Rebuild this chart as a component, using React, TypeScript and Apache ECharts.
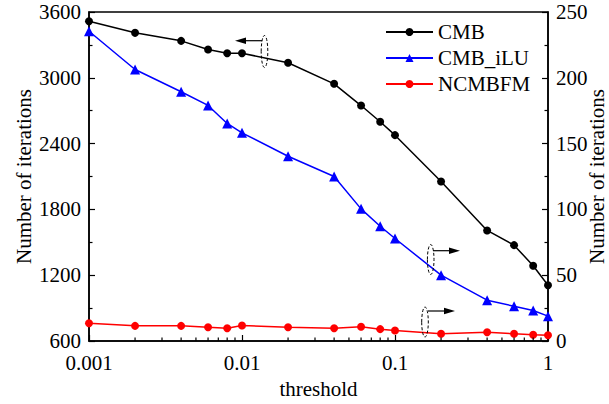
import React, { useEffect, useRef } from "react";
import * as echarts from "echarts";

const thresholds = [0.001, 0.002, 0.004, 0.006, 0.008, 0.01, 0.02, 0.04, 0.06, 0.08, 0.1, 0.2, 0.4, 0.6, 0.8, 1];
const cmb = [3516, 3410, 3337, 3258, 3224, 3224, 3137, 2945, 2747, 2599, 2477, 2054, 1608, 1474, 1286, 1109];
const cmbILU = [235.4, 206.3, 189.4, 179, 165.3, 158.2, 140.4, 125, 100.4, 87.2, 77.9, 50, 31, 26.4, 23.2, 18.9];
const ncmbfm = [13.5, 11.5, 11.5, 10.5, 9.7, 11.8, 10.5, 9.7, 10.8, 9, 8, 5.5, 6.7, 5.5, 4.7, 4.4];
const seriesNames = ["CMB", "CMB_iLU", "NCMBFM"];
const decades = [0.001, 0.01, 0.1];
const minorMultipliers = [2, 3, 4, 5, 6, 7, 8, 9];
const logMinorTicks = decades.flatMap((d) => minorMultipliers.map((m) => +(d * m).toPrecision(3)));

const FONT = "'Liberation Serif', 'Times New Roman', serif";
const FS = 21;

function arrow(x1: number, y: number, x2: number, ellipse: { cx: number; cy: number; rx: number; ry: number }) {
  const dir = x2 > x1 ? 1 : -1;
  const headLen = 11;
  const headHalf = 3.2;
  return [
    {
      type: "ellipse",
      shape: ellipse,
      style: { fill: "none", stroke: "#000", lineWidth: 1, lineDash: [3, 2] },
      z: 20,
    },
    {
      type: "line",
      shape: { x1, y1: y, x2: x2 - dir * headLen, y2: y },
      style: { stroke: "#000", lineWidth: 1.2 },
      z: 20,
    },
    {
      type: "polygon",
      shape: {
        points: [
          [x2, y],
          [x2 - dir * headLen, y - headHalf],
          [x2 - dir * headLen, y + headHalf],
        ],
      },
      style: { fill: "#000" },
      z: 20,
    },
  ];
}

export default function App() {
  const ref = useRef<HTMLDivElement>(null);
  useEffect(() => {
    if (!ref.current) return;
    const chart = echarts.init(ref.current, null, { renderer: "svg" });
    const axisLabel = { color: "#000", fontSize: FS, fontFamily: FONT };
    const nameStyle = { color: "#000", fontSize: FS, fontFamily: FONT };
    const axisLine = { show: true, lineStyle: { color: "#000", width: 1.5 } };
    chart.setOption({
      animation: false,
      textStyle: { fontFamily: FONT },
      grid: {
        left: 89,
        right: 61,
        top: 12,
        bottom: 63,
        containLabel: false,
        outerBoundsMode: "none",
        show: true,
        borderColor: "#000",
        borderWidth: 1.5,
        backgroundColor: "transparent",
      },
      legend: {
        data: seriesNames,
        orient: "vertical",
        left: 385,
        top: 21,
        padding: 0,
        itemWidth: 47,
        itemHeight: 10,
        itemGap: 4,
        textStyle: { color: "#000", fontSize: FS, fontFamily: FONT, lineHeight: 22 },
      },
      xAxis: {
        type: "log",
        logBase: 10,
        min: 0.001,
        max: 1,
        name: "threshold",
        nameLocation: "middle",
        nameGap: 37,
        nameMoveOverlap: false,
        nameTextStyle: nameStyle,
        axisLine,
        axisTick: { show: true, inside: true, length: 6, lineStyle: { color: "#000", width: 1.2 } },
        axisLabel: {
          ...axisLabel,
          margin: 11,
          formatter: (v: number) => String(+Number(v).toPrecision(3)),
        },
        splitLine: { show: false },
      },
      yAxis: [
        {
          type: "value",
          min: 600,
          max: 3600,
          interval: 600,
          position: "left",
          name: "Number of iterations",
          nameLocation: "middle",
          nameGap: 55,
          nameMoveOverlap: false,
          nameTextStyle: nameStyle,
          axisLine,
          axisTick: { show: true, inside: true, length: 6, lineStyle: { color: "#000", width: 1.2 } },
          minorTick: { show: true, splitNumber: 2, length: 3.5, lineStyle: { color: "#000", width: 1.2 } },
          axisLabel: { ...axisLabel, margin: 8, formatter: (v: number) => String(v) },
          splitLine: { show: false },
        },
        {
          type: "value",
          min: 0,
          max: 250,
          interval: 50,
          position: "right",
          name: "Number of iterations",
          nameLocation: "middle",
          nameGap: 38,
          nameMoveOverlap: false,
          nameTextStyle: nameStyle,
          axisLine,
          axisTick: { show: true, inside: true, length: 6, lineStyle: { color: "#000", width: 1.2 } },
          minorTick: { show: true, splitNumber: 2, length: 3.5, lineStyle: { color: "#000", width: 1.2 } },
          axisLabel: { ...axisLabel, margin: 8, formatter: (v: number) => String(v) },
          splitLine: { show: false },
        },
      ],
      series: [
        {
          name: "CMB",
          type: "line",
          yAxisIndex: 0,
          data: thresholds.map((t, i) => [t, cmb[i]]),
          symbol: "circle",
          symbolSize: 8,
          itemStyle: { color: "#000" },
          lineStyle: { color: "#000", width: 1.5 },
          z: 3,
        },
        {
          name: "CMB_iLU",
          type: "line",
          yAxisIndex: 1,
          data: thresholds.map((t, i) => [t, cmbILU[i]]),
          symbol: "triangle",
          symbolSize: 10,
          itemStyle: { color: "#0000ff" },
          lineStyle: { color: "#0000ff", width: 1.5 },
          z: 3,
        },
        {
          name: "NCMBFM",
          type: "line",
          yAxisIndex: 1,
          data: thresholds.map((t, i) => [t, ncmbfm[i]]),
          symbol: "circle",
          symbolSize: 8,
          itemStyle: { color: "#ff0000" },
          lineStyle: { color: "#ff0000", width: 1.5 },
          z: 3,
        },
        {
          type: "custom",
          xAxisIndex: 0,
          yAxisIndex: 1,
          silent: true,
          clip: false,
          z: 10,
          data: logMinorTicks.map((v) => [v, 0]),
          renderItem: (params: any, api: any) => {
            const p = api.coord([api.value(0), 0]);
            return {
              type: "line",
              shape: { x1: p[0], y1: p[1], x2: p[0], y2: p[1] - 3.5 },
              style: { stroke: "#000", lineWidth: 1.2 },
            };
          },
        },
      ],
      graphic: [
        ...arrow(262, 40.7, 235, { cx: 264.5, cy: 51.5, rx: 3.3, ry: 16 }),
        ...arrow(433, 250.7, 460, { cx: 430.7, cy: 259.5, rx: 3.3, ry: 15 }),
        ...arrow(428, 311, 455, { cx: 425, cy: 322, rx: 3.3, ry: 15 }),
      ],
    });
    return () => chart.dispose();
  }, []);
  return <div ref={ref} style={{ position: "absolute", left: 0, top: 0, width: 609, height: 404 }} />;
}
